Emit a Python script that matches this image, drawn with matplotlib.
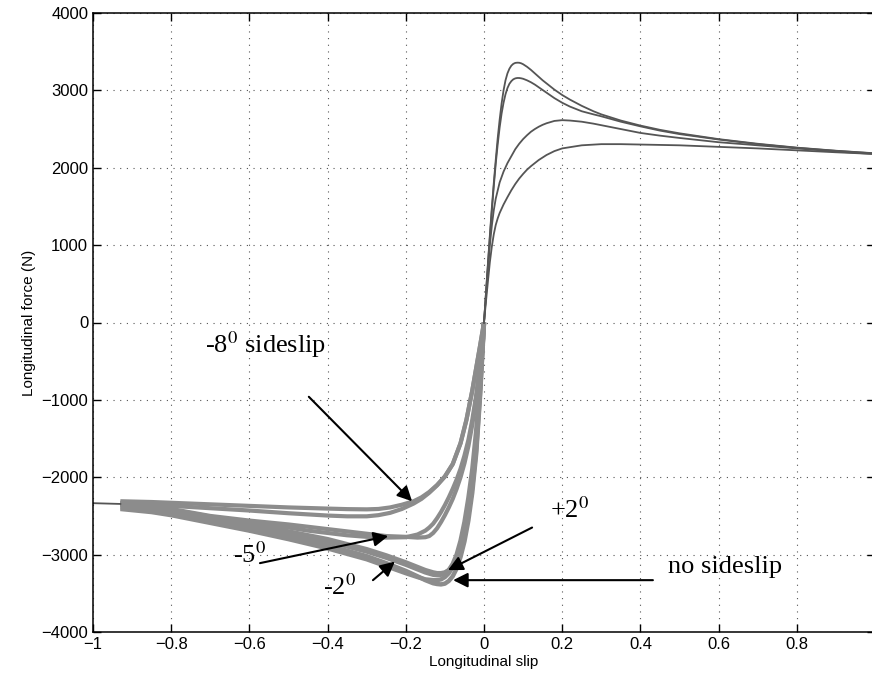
import matplotlib
matplotlib.use('Agg')
import matplotlib.pyplot as plt

plt.rcParams['font.family'] = ['Liberation Sans', 'DejaVu Sans']
plt.rcParams['mathtext.fontset'] = 'stix'

# positive slip branch (thin dark curves)
pos_ab_x = [0, 0.005, 0.01, 0.015, 0.02, 0.025, 0.03, 0.035, 0.04, 0.045, 0.05, 0.055, 0.06, 0.065,
            0.07, 0.075, 0.08, 0.085, 0.09, 0.095, 0.10, 0.11, 0.12, 0.13, 0.14, 0.15, 0.16, 0.18,
            0.20, 0.22, 0.25, 0.28, 0.30, 0.35, 0.40, 0.45, 0.50, 0.60, 0.70, 0.80, 0.90, 0.99]
pos_a_y = [0, 380, 760, 1130, 1480, 1800, 2100, 2380, 2620, 2830, 3000, 3130, 3220, 3280,
           3320, 3343, 3355, 3358, 3357, 3350, 3338, 3305, 3265, 3220, 3175, 3130, 3090, 3010,
           2940, 2880, 2800, 2730, 2690, 2610, 2545, 2490, 2445, 2370, 2310, 2260, 2220, 2190]
pos_b_y = [0, 370, 740, 1100, 1440, 1760, 2050, 2300, 2520, 2700, 2840, 2950, 3030, 3085,
           3120, 3143, 3155, 3160, 3160, 3156, 3150, 3130, 3105, 3075, 3040, 3005, 2970, 2900,
           2840, 2790, 2730, 2690, 2665, 2595, 2535, 2480, 2435, 2365, 2305, 2257, 2218, 2188]
pos_c_x = [0, 0.005, 0.01, 0.015, 0.02, 0.025, 0.03, 0.04, 0.05, 0.06, 0.07, 0.08, 0.09, 0.10,
           0.11, 0.12, 0.13, 0.14, 0.15, 0.16, 0.18, 0.20, 0.22, 0.25, 0.28, 0.30, 0.35, 0.40,
           0.45, 0.50, 0.60, 0.70, 0.80, 0.90, 0.99]
pos_c_y = [0, 340, 680, 1000, 1250, 1450, 1600, 1810, 1950, 2060, 2150, 2240, 2310, 2370,
           2420, 2465, 2500, 2530, 2555, 2575, 2605, 2615, 2610, 2595, 2570, 2550, 2500, 2450,
           2415, 2385, 2330, 2290, 2250, 2210, 2180]
pos_d_x = [0, 0.005, 0.01, 0.015, 0.02, 0.025, 0.03, 0.035, 0.04, 0.05, 0.06, 0.07, 0.08, 0.09,
           0.10, 0.11, 0.12, 0.14, 0.16, 0.18, 0.20, 0.25, 0.30, 0.35, 0.40, 0.50, 0.60, 0.70,
           0.80, 0.90, 0.99]
pos_d_y = [0, 270, 530, 780, 980, 1140, 1260, 1345, 1415, 1525, 1620, 1710, 1790, 1860,
           1920, 1975, 2020, 2100, 2165, 2215, 2250, 2290, 2305, 2305, 2300, 2290, 2270, 2250,
           2225, 2200, 2180]
lead_x = [-1.0, -0.93]
lead_y = [-2335, -2345]

# negative slip branch (thick grey curves)
neg_x = [-0.93, -0.85, -0.8, -0.7, -0.6, -0.5, -0.4, -0.3, -0.25, -0.2, -0.17, -0.15, -0.13,
         -0.12, -0.11, -0.1, -0.09, -0.08, -0.07, -0.06, -0.05, -0.04, -0.03, -0.02, -0.01, 0]
no_slip_y = [-2390, -2430, -2470, -2570, -2670, -2770, -2880, -3020, -3110, -3210, -3280, -3330,
             -3370, -3380, -3385, -3375, -3340, -3280, -3180, -3030, -2830, -2560, -2200, -1700,
             -950, 0]
minus2_y = [-2340, -2380, -2420, -2510, -2600, -2700, -2800, -2930, -3010, -3100, -3160, -3200,
            -3230, -3240, -3240, -3230, -3200, -3140, -3050, -2920, -2740, -2480, -2130, -1650,
            -900, 0]
plus2_y = [-2360, -2400, -2440, -2530, -2630, -2730, -2830, -2960, -3040, -3130, -3190, -3230,
           -3260, -3265, -3260, -3240, -3200, -3120, -3000, -2820, -2580, -2270, -1900, -1400,
           -750, 0]
plus2b_y = [-2410, -2450, -2490, -2590, -2690, -2800, -2920, -3060, -3150, -3240, -3290, -3320,
            -3330, -3330, -3320, -3290, -3240, -3160, -3050, -2900, -2700, -2420, -2050, -1550,
            -820, 0]

m5_x = [-0.93, -0.85, -0.8, -0.7, -0.6, -0.5, -0.45, -0.4, -0.35, -0.3, -0.25, -0.2, -0.17,
        -0.15, -0.14, -0.13, -0.12, -0.11, -0.1, -0.09, -0.08, -0.07, -0.06, -0.05, -0.04,
        -0.03, -0.02, -0.01, 0]
m5a_y = [-2330, -2370, -2410, -2500, -2560, -2610, -2640, -2670, -2700, -2730, -2760, -2770,
         -2780, -2775, -2760, -2720, -2660, -2580, -2490, -2390, -2280, -2150, -2000, -1820,
         -1600, -1320, -980, -560, 0]
m5b_y = [-2350, -2390, -2430, -2520, -2590, -2650, -2690, -2720, -2750, -2770, -2780, -2775,
         -2740, -2690, -2650, -2600, -2530, -2450, -2360, -2260, -2150, -2030, -1890, -1720,
         -1520, -1260, -940, -540, 0]

m8_x = [-0.93, -0.85, -0.8, -0.7, -0.6, -0.5, -0.4, -0.35, -0.3, -0.27, -0.24, -0.21, -0.18,
        -0.16, -0.14, -0.12, -0.1, -0.08, -0.06, -0.045, -0.03, -0.02, -0.01, 0]
m8a_y = [-2310, -2320, -2330, -2350, -2370, -2390, -2405, -2412, -2415, -2410, -2390, -2355,
         -2310, -2260, -2190, -2100, -1990, -1830, -1560, -1260, -880, -590, -300, 0]
m8b_y = [-2330, -2350, -2370, -2400, -2430, -2465, -2495, -2505, -2505, -2490, -2460, -2410,
         -2340, -2280, -2200, -2105, -1990, -1830, -1560, -1260, -880, -590, -300, 0]

fig = plt.figure(figsize=(8.72, 6.79), dpi=100)
ax = fig.add_axes([93 / 872, 47 / 679, 782 / 872, 619 / 679])

grey = '#8c8c8c'
for y in [m8a_y, m8b_y]:
    ax.plot(m8_x, y, color=grey, lw=3.0, solid_capstyle='butt', solid_joinstyle='round')
for y in [m5a_y, m5b_y]:
    ax.plot(m5_x, y, color=grey, lw=3.0, solid_capstyle='butt', solid_joinstyle='round')
for y in [no_slip_y, minus2_y, plus2_y, plus2b_y]:
    ax.plot(neg_x, y, color=grey, lw=3.2, solid_capstyle='butt', solid_joinstyle='round')

dark = '#555555'
ax.plot(lead_x, lead_y, color=dark, lw=1.3)
for px, py in [(pos_ab_x, pos_a_y), (pos_ab_x, pos_b_y), (pos_c_x, pos_c_y), (pos_d_x, pos_d_y)]:
    ax.plot(px, py, color=dark, lw=1.3)

ax.set_xlim(-1, 1)
ax.set_ylim(-4000, 4000)
ax.set_xticks([-1, -0.8, -0.6, -0.4, -0.2, 0, 0.2, 0.4, 0.6, 0.8])
ax.set_xticklabels(['\u22121', '\u22120.8', '\u22120.6', '\u22120.4', '\u22120.2', '0',
                    '0.2', '0.4', '0.6', '0.8'])
ax.set_yticks(range(-4000, 4001, 1000))
ax.tick_params(direction='in', length=6, width=1, labelsize=12, top=True, right=True)
ax.grid(True, color='#555555', linestyle=(0, (1, 5)), linewidth=0.8)
for s in ax.spines.values():
    s.set_linewidth(1.1)
ax.set_xlabel('Longitudinal slip', fontsize=11, labelpad=2)
ax.set_ylabel('Longitudinal force (N)', fontsize=11, labelpad=4)

serif = ['Liberation Serif', 'DejaVu Serif']
arrow = dict(arrowstyle='-|>', color='black', lw=1.5, mutation_scale=22, shrinkA=0, shrinkB=0)
ax.text(-0.56, -290, '-8$^0$ sideslip', fontsize=19, family=serif, ha='center', va='center')
ax.annotate('', xy=(-0.184, -2310), xytext=(-0.448, -960), arrowprops=arrow)
ax.text(-0.60, -3000, '-5$^0$', fontsize=19, family=serif, ha='center', va='center')
ax.annotate('', xy=(-0.245, -2760), xytext=(-0.573, -3110), arrowprops=arrow)
ax.text(-0.37, -3420, '-2$^0$', fontsize=19, family=serif, ha='center', va='center')
ax.annotate('', xy=(-0.228, -3090), xytext=(-0.284, -3330), arrowprops=arrow)
ax.text(0.22, -2420, '+2$^0$', fontsize=19, family=serif, ha='center', va='center')
ax.annotate('', xy=(-0.092, -3200), xytext=(0.123, -2650), arrowprops=arrow)
ax.text(0.47, -3160, 'no sideslip', fontsize=19, family=serif, ha='left', va='center')
ax.annotate('', xy=(-0.079, -3330), xytext=(0.432, -3330), arrowprops=arrow)

fig.savefig('out.png', dpi=100)
